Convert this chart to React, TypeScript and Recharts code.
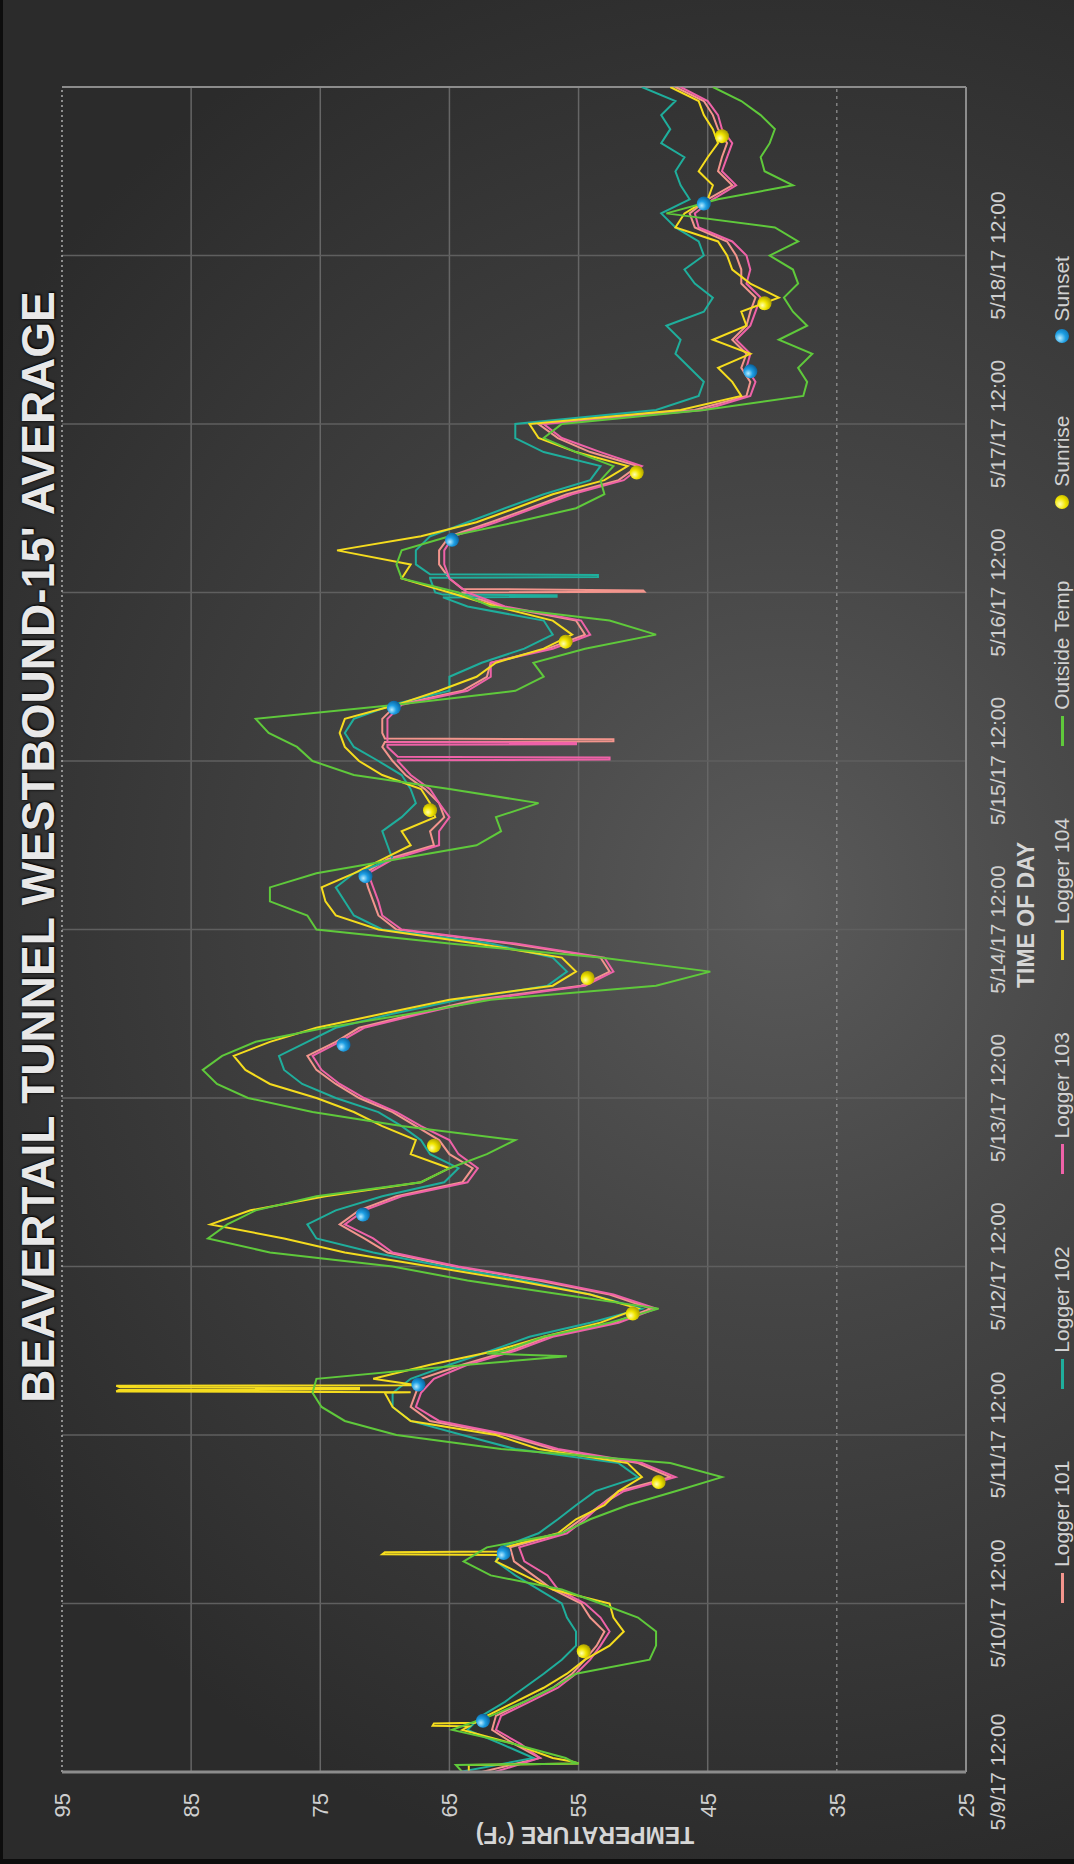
import React from 'react'
import { ComposedChart, Line, Scatter, XAxis, YAxis, ReferenceLine } from 'recharts'

// time axis is in hours after 5/9/17 12:00, one tick per day
const dayTicks = [0, 24, 48, 72, 96, 120, 144, 168, 192, 216]
const dayLabels = [
  '5/9/17 12:00', '5/10/17 12:00', '5/11/17 12:00', '5/12/17 12:00', '5/13/17 12:00',
  '5/14/17 12:00', '5/15/17 12:00', '5/16/17 12:00', '5/17/17 12:00', '5/18/17 12:00',
]
const tempTicks = [25, 35, 45, 55, 65, 75, 85, 95]

// readings every 2 hours, 0..240
const hours = Array.from({ length: 121 }, (_, i) => i * 2)

const logger101 = [
  62.5, 58.0, 60.0, 61.7, 61.4, 59.2, 57.0, 55.5, 54.5, 53.6, 53.0, 54.1,
  54.8, 57.0, 58.5, 60.0, 60.3, 56.3, 54.8, 53.3, 51.9, 47.9, 50.4, 57.0,
  60.7, 66.5, 68.0, 67.6, 67.2, 64.0, 60.3, 57.4, 52.3, 49.4, 52.6, 58.1,
  64.7, 69.8, 71.6, 73.5, 72.0, 69.1, 64.0, 63.2, 65.0, 65.8, 67.6, 69.4,
  72.0, 73.8, 75.3, 76.0, 73.8, 72.0, 67.6, 62.9, 54.8, 52.6, 53.3, 60.3,
  69.1, 70.5, 70.9, 71.3, 71.6, 69.8, 66.2, 66.5, 65.4, 65.8, 66.9, 68.4,
  69.4, 70.2, 70.2, 70.2, 69.1, 64.0, 62.1, 61.8, 57.4, 54.5, 55.2, 61.0,
  64.0, 65.0, 65.8, 65.8, 65.0, 61.8, 58.8, 55.9, 51.9, 50.4, 54.1, 56.6,
  58.1, 46.0, 42.0, 41.7, 42.4, 42.0, 43.1, 42.0, 41.7, 41.3, 42.4, 42.4,
  42.8, 43.5, 46.0, 46.4, 45.0, 43.1, 44.2, 43.9, 43.5, 44.2, 44.6, 45.3,
  47.5,
]
const logger102 = [
  64.2, 58.5, 61.0, 63.6, 62.5, 60.7, 59.2, 57.7, 56.3, 55.2, 55.2, 55.9,
  56.3, 58.1, 59.9, 61.4, 61.0, 58.1, 56.6, 55.2, 53.7, 50.4, 51.9, 59.9,
  64.0, 68.0, 69.4, 69.4, 68.0, 65.0, 61.8, 58.8, 54.1, 50.1, 54.1, 59.2,
  65.4, 70.9, 75.3, 76.0, 73.8, 70.2, 65.4, 64.3, 66.5, 67.2, 68.7, 70.5,
  73.8, 76.4, 77.8, 78.2, 76.0, 73.8, 69.4, 64.3, 57.4, 55.9, 57.0, 61.8,
  70.2, 72.4, 73.1, 73.8, 72.4, 69.4, 69.8, 70.2, 68.7, 67.6, 68.0, 68.7,
  70.5, 72.4, 73.1, 72.4, 69.4, 65.0, 65.0, 62.5, 59.2, 57.0, 57.7, 63.6,
  66.1, 66.5, 67.6, 67.6, 66.5, 63.6, 60.7, 57.7, 54.1, 53.3, 57.7, 59.9,
  59.9, 49.0, 45.7, 45.3, 46.4, 47.5, 47.1, 48.2, 45.3, 44.6, 46.0, 46.8,
  45.3, 45.7, 47.5, 48.6, 46.4, 47.1, 47.5, 46.8, 48.6, 47.9, 48.6, 47.5,
  50.1,
]
const logger103 = [
  61.5, 58.0, 59.5, 61.4, 61.0, 58.8, 56.6, 55.2, 54.1, 53.3, 52.6, 53.3,
  54.5, 56.6, 57.4, 59.2, 59.6, 55.9, 54.5, 53.3, 51.5, 47.5, 50.1, 56.6,
  60.3, 65.8, 67.6, 67.2, 66.2, 63.6, 59.9, 57.0, 51.9, 49.0, 52.3, 57.7,
  64.3, 69.4, 70.9, 73.1, 71.6, 68.7, 63.6, 62.8, 64.3, 65.0, 67.2, 69.1,
  71.6, 73.5, 74.9, 75.6, 73.5, 71.6, 67.2, 62.5, 54.5, 52.3, 53.0, 59.9,
  68.7, 70.2, 70.5, 70.9, 71.3, 69.4, 65.8, 65.8, 65.0, 65.8, 66.5, 68.0,
  69.0, 69.8, 69.8, 69.8, 68.7, 63.6, 61.8, 61.8, 57.0, 54.1, 54.8, 60.7,
  63.6, 65.0, 65.4, 65.4, 64.7, 61.4, 58.5, 55.5, 51.5, 50.1, 53.3, 56.3,
  57.7, 45.3, 41.7, 41.3, 42.0, 41.7, 42.8, 41.7, 41.3, 40.9, 42.0, 41.7,
  42.0, 43.1, 45.7, 46.0, 44.6, 42.8, 43.9, 43.5, 43.1, 43.9, 44.2, 45.0,
  47.1,
]
const logger104 = [
  63.5, 57.0, 60.0, 64.0, 62.1, 59.9, 57.7, 55.9, 54.5, 52.6, 51.5, 52.3,
  52.6, 57.0, 59.2, 61.4, 60.7, 56.6, 55.2, 53.0, 51.9, 50.1, 51.2, 58.1,
  61.4, 68.0, 69.4, 70.0, 70.9, 66.5, 61.4, 57.7, 53.3, 50.4, 54.1, 59.9,
  66.5, 73.1, 77.8, 83.5, 80.4, 74.6, 67.2, 65.0, 68.0, 67.6, 70.2, 72.4,
  75.3, 78.9, 80.8, 81.7, 78.9, 75.3, 70.2, 65.0, 57.0, 55.2, 56.3, 62.9,
  70.5, 73.8, 74.6, 74.9, 72.4, 70.2, 68.0, 68.7, 66.1, 66.5, 67.2, 70.2,
  72.0, 73.1, 73.5, 73.1, 69.1, 65.8, 62.9, 61.4, 57.7, 55.5, 57.0, 61.4,
  65.0, 68.7, 68.0, 73.7, 67.2, 62.9, 59.9, 57.0, 53.0, 51.2, 55.2, 58.1,
  58.8, 47.1, 42.4, 43.1, 44.2, 41.7, 44.6, 42.0, 42.4, 39.5, 41.7, 43.1,
  43.5, 44.2, 47.5, 46.8, 45.0, 44.6, 45.7, 45.0, 44.2, 44.6, 45.3, 45.7,
  47.9,
]
const outsideTemp = [
  64.0, 56.0, 60.0, 64.8, 61.8, 59.2, 57.0, 55.2, 49.5, 49.0, 49.0, 50.4,
  53.3, 56.3, 61.8, 63.9, 62.1, 56.3, 54.1, 51.2, 47.5, 43.9, 47.9, 61.0,
  69.1, 73.1, 74.9, 75.6, 75.3, 63.6, 60.7, 57.7, 52.6, 48.8, 56.3, 63.6,
  69.4, 78.9, 83.7, 82.2, 80.0, 75.3, 67.2, 65.0, 62.1, 59.9, 68.7, 75.6,
  80.6, 83.0, 84.1, 82.6, 80.0, 74.6, 68.0, 61.8, 49.0, 44.8, 53.3, 65.0,
  75.3, 76.0, 78.9, 78.9, 75.3, 69.1, 62.9, 61.0, 61.4, 58.1, 65.0, 72.4,
  75.6, 76.8, 79.0, 80.0, 69.1, 59.9, 57.7, 58.5, 54.5, 49.0, 52.6, 61.8,
  64.3, 68.7, 69.1, 68.7, 65.0, 59.9, 55.2, 53.0, 53.3, 52.3, 55.2, 57.7,
  56.3, 45.3, 37.6, 37.3, 38.0, 36.9, 39.5, 37.3, 38.4, 39.1, 38.0, 38.4,
  40.2, 38.0, 39.8, 48.2, 44.2, 38.4, 40.6, 40.9, 40.2, 39.8, 40.9, 42.4,
  44.6,
]

// short spikes between the 2-hour readings: [hour, °F]
const logger101Spikes = [
  [146.7, 70.0], [146.8, 52.3], [147.1, 52.3], [147.2, 70.0],
  [167.9, 64.0], [168.1, 49.9], [168.3, 50.0], [168.5, 64.0],
]
const logger102Spikes = [
  [167.3, 65.5], [167.4, 56.7], [167.6, 56.7], [167.7, 65.5],
  [170.1, 66.5], [170.2, 53.5], [170.5, 53.5], [170.6, 66.5],
]
const logger103Spikes = [
  [144.1, 69.0], [144.2, 52.6], [144.5, 52.6], [144.6, 69.0],
  [146.3, 69.8], [146.4, 55.2], [146.6, 55.2], [146.7, 69.8],
]
const logger104Spikes = [
  [1.0, 63.5], [1.2, 55.0], [1.5, 55.5],
  [6.5, 63.5], [6.6, 66.3], [6.9, 66.2], [7.0, 63.0],
  [30.9, 61.0], [31.0, 70.2], [31.3, 70.0], [31.4, 61.0],
  [54.1, 68.0], [54.2, 90.8], [54.4, 90.6], [54.5, 72.0],
  [54.7, 72.0], [54.8, 90.5], [55.0, 90.8], [55.1, 67.5],
]
const outsideSpikes = [
  [1.0, 64.5], [1.2, 55.0], [1.5, 55.5],
  [59.2, 55.9], [59.6, 62.1],
]

const sunriseHours = [17.2, 41.3, 65.3, 89.2, 113.1, 137.0, 161.0, 185.1, 209.2, 233.0]
const sunriseTemps = [54.6, 48.8, 50.8, 66.2, 54.3, 66.5, 56.0, 50.5, 40.6, 43.9]
const sunsetHours = [7.3, 31.2, 55.2, 79.4, 103.6, 127.6, 151.6, 175.5, 199.5, 223.4]
const sunsetTemps = [62.4, 60.8, 67.4, 71.7, 73.2, 71.5, 69.3, 64.8, 41.7, 45.3]

const series = [
  { key: 'l101', name: 'Logger 101', color: '#f3958d', values: logger101, spikes: logger101Spikes },
  { key: 'l102', name: 'Logger 102', color: '#1fae9c', values: logger102, spikes: logger102Spikes },
  { key: 'l103', name: 'Logger 103', color: '#ef62a8', values: logger103, spikes: logger103Spikes },
  { key: 'l104', name: 'Logger 104', color: '#f5dc1e', values: logger104, spikes: logger104Spikes },
  { key: 'out', name: 'Outside Temp', color: '#5fc93b', values: outsideTemp, spikes: outsideSpikes },
]

function buildRows() {
  const byHour = new Map<number, Record<string, number>>()
  const row = (h: number) => {
    if (!byHour.has(h)) byHour.set(h, { hour: h })
    return byHour.get(h)!
  }
  hours.forEach((h, i) => {
    const r = row(h)
    series.forEach((s) => (r[s.key] = s.values[i]))
  })
  series.forEach((s) => s.spikes.forEach(([h, v]) => (row(h)[s.key] = v)))
  return [...byHour.values()].sort((a, b) => a.hour - b.hour)
}

const rows = buildRows()
const sunrise = sunriseHours.map((h, i) => ({ hour: h, temp: sunriseTemps[i] }))
const sunset = sunsetHours.map((h, i) => ({ hour: h, temp: sunsetTemps[i] }))

const FONT = "'Liberation Sans', Arial, sans-serif"
const GRID = '#666666'
const BORDER = '#8c8c8c'

const ballCss = (light: string, mid: string, dark: string) =>
  `radial-gradient(circle at 35% 35%, ${light} 0%, ${mid} 45%, ${dark} 100%)`

function Ball({ cx, cy, id }: { cx?: number; cy?: number; id: string }) {
  if (cx == null || cy == null) return null
  return <circle cx={cx} cy={cy} r={7} fill={`url(#${id})`} />
}

function LegendRow() {
  return (
    <div
      style={{
        position: 'absolute', left: 92, width: 1685, top: 1050, display: 'flex',
        justifyContent: 'center', alignItems: 'center', gap: 72,
        color: '#d2d2d2', fontSize: 21, fontFamily: FONT, whiteSpace: 'nowrap',
      }}
    >
      {series.map((s) => (
        <div key={s.key} style={{ display: 'flex', alignItems: 'center', gap: 6 }}>
          <span style={{ width: 30, height: 3, background: s.color, display: 'inline-block' }} />
          <span>{s.name}</span>
        </div>
      ))}
      <div style={{ display: 'flex', alignItems: 'center', gap: 8 }}>
        <span style={{ width: 14, height: 14, borderRadius: 7, display: 'inline-block', background: ballCss('#ffffb0', '#f2e600', '#a89c00') }} />
        <span>Sunrise</span>
      </div>
      <div style={{ display: 'flex', alignItems: 'center', gap: 8 }}>
        <span style={{ width: 14, height: 14, borderRadius: 7, display: 'inline-block', background: ballCss('#b8ecff', '#1d9fe4', '#0a5f99') }} />
        <span>Sunset</span>
      </div>
    </div>
  )
}

export default function App() {
  return (
    <div
      style={{
        position: 'relative', width: 1074, height: 1864, overflow: 'hidden',
        background: 'radial-gradient(ellipse 950px 1000px at 780px 900px, #5a5a5a 0%, #454545 40%, #2b2b2b 100%)',
        boxShadow: 'inset 3px -5px 0 #0d0d0d', fontFamily: FONT,
      }}
    >
      <style>{'body{margin:0;background:#2b2b2b}'}</style>
      {/* the chart is drawn landscape and turned a quarter turn counter-clockwise */}
      <div
        style={{
          position: 'absolute', left: 0, top: 0, width: 1864, height: 1074,
          transformOrigin: '0 0', transform: 'translateY(1864px) rotate(-90deg)',
        }}
      >
        <div style={{ position: 'absolute', left: 0, top: 0 }}>
          <ComposedChart width={1864} height={1074} data={rows} margin={{ top: 62, right: 87, bottom: 78, left: 32 }}>
            <defs>
              <radialGradient id="sunriseBall" cx="35%" cy="35%" r="70%">
                <stop offset="0%" stopColor="#ffffb0" />
                <stop offset="45%" stopColor="#f2e600" />
                <stop offset="100%" stopColor="#a89c00" />
              </radialGradient>
              <radialGradient id="sunsetBall" cx="35%" cy="35%" r="70%">
                <stop offset="0%" stopColor="#b8ecff" />
                <stop offset="45%" stopColor="#1d9fe4" />
                <stop offset="100%" stopColor="#0a5f99" />
              </radialGradient>
            </defs>
            <XAxis
              type="number"
              dataKey="hour"
              domain={[0, 240]}
              ticks={dayTicks}
              tickFormatter={(v: number) => dayLabels[Math.round(v / 24)]}
              tick={{ fill: '#cfcfcf', fontSize: 21, fontFamily: FONT }}
              tickLine={false}
              tickSize={0}
              tickMargin={24}
              axisLine={{ stroke: BORDER, strokeWidth: 2 }}
              height={30}
              allowDataOverflow
            />
            <YAxis
              type="number"
              domain={[25, 95]}
              ticks={tempTicks}
              tick={{ fill: '#cfcfcf', fontSize: 22, fontFamily: FONT }}
              tickLine={false}
              tickSize={0}
              tickMargin={21}
              axisLine={{ stroke: BORDER, strokeWidth: 3 }}
              width={60}
              allowDataOverflow
            />
            {tempTicks.slice(1, -1).map((t) =>
              t === 35 ? (
                <ReferenceLine key={t} y={t} stroke="#a8a8a8" strokeDasharray="3 4" />
              ) : (
                <ReferenceLine key={t} y={t} stroke={GRID} strokeWidth={1.5} />
              ),
            )}
            {dayTicks.slice(1).map((d) => (
              <ReferenceLine key={d} x={d} stroke="#5f5f5f" strokeWidth={1.5} />
            ))}
            <ReferenceLine y={95} stroke="#b0b0b0" strokeDasharray="2 3" strokeWidth={1.5} />
            <ReferenceLine x={240} stroke={BORDER} strokeWidth={2} />
            {series.map((s) => (
              <Line
                key={s.key}
                dataKey={s.key}
                name={s.name}
                type="linear"
                stroke={s.color}
                strokeWidth={2}
                dot={false}
                connectNulls
                isAnimationActive={false}
              />
            ))}
            <Scatter
              name="Sunrise"
              data={sunrise}
              dataKey="temp"
              isAnimationActive={false}
              shape={(p: any) => <Ball cx={p.cx} cy={p.cy} id="sunriseBall" />}
            />
            <Scatter
              name="Sunset"
              data={sunset}
              dataKey="temp"
              isAnimationActive={false}
              shape={(p: any) => <Ball cx={p.cx} cy={p.cy} id="sunsetBall" />}
            />
          </ComposedChart>
        </div>

        <div
          style={{
            position: 'absolute', left: 1017, top: 15, transform: 'translateX(-50%)', whiteSpace: 'nowrap',
            fontSize: 46, lineHeight: 1, fontWeight: 700, color: '#e8e8e8', fontFamily: FONT,
            textShadow: '0 0 3px #000, 1px 1px 2px #000',
          }}
        >
          BEAVERTAIL TUNNEL WESTBOUND-15' AVERAGE
        </div>
        <div
          style={{
            position: 'absolute', left: 29 - 150, top: 585 - 12, width: 300, height: 24, textAlign: 'center',
            transform: 'rotate(-90deg)', fontSize: 23, lineHeight: '24px', fontWeight: 700, color: '#d6d6d6',
          }}
        >
          TEMPERATURE (°F)
        </div>
        <div
          style={{
            position: 'absolute', left: 949, top: 1014, transform: 'translateX(-50%)', whiteSpace: 'nowrap',
            fontSize: 23, lineHeight: '24px', fontWeight: 700, color: '#d6d6d6',
          }}
        >
          TIME OF DAY
        </div>
        <LegendRow />
      </div>
    </div>
  )
}
